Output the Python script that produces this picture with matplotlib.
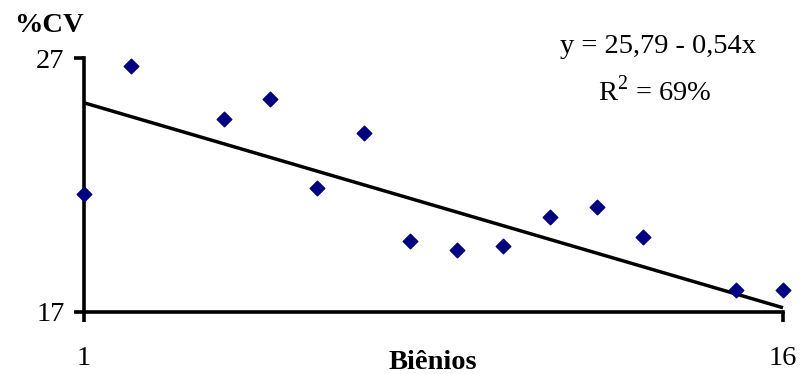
import matplotlib
matplotlib.use("Agg")
import matplotlib.pyplot as plt
import numpy as np

# Coefficient of variation per biennium
bienio = [1, 2, 4, 5, 6, 7, 8, 9, 10, 11, 12, 13, 15, 16]
cv = [21.65, 26.7, 24.6, 25.4, 21.9, 24.05, 19.8, 19.45, 19.6, 20.75, 21.15, 19.95, 17.85, 17.85]

# Fitted trend (as reported)
intercept = 25.79
slope = -0.54

x_ticks = [1, 16]
y_ticks = [17, 27]

plt.rcParams["font.family"] = ["Liberation Serif", "DejaVu Serif"]
plt.rcParams["mathtext.fontset"] = "custom"
plt.rcParams["mathtext.rm"] = "Liberation Serif"

fs = 20.5

fig = plt.figure(figsize=(8.01, 3.74), dpi=100)
ax = fig.add_axes([0.1048, 0.167, 0.8727, 0.6766])

ax.scatter(bienio, cv, marker="D", s=55, color="#000080", zorder=3, clip_on=False)

xs = np.array([1, 16])
ax.plot(xs, intercept + slope * xs, color="black", lw=2.5, solid_capstyle="butt",
        clip_on=False)

ax.set_xlim(1, 16)
ax.set_ylim(17, 27)
ax.set_xticks(x_ticks)
ax.set_yticks(y_ticks)
ax.tick_params(axis="both", direction="out", length=7, width=2.6, labelsize=fs)
ax.tick_params(axis="x", pad=18)
ax.tick_params(axis="y", pad=7)

for side in ("top", "right"):
    ax.spines[side].set_visible(False)
for side in ("left", "bottom"):
    ax.spines[side].set_linewidth(2.6)

fig.text(0.061, 0.933, "%CV", fontsize=fs, fontweight="bold", ha="center", va="center")
fig.text(0.54, 0.032, "Biênios", fontsize=fs, fontweight="bold", ha="center", va="center")

fig.text(0.821, 0.875, "y = 25,79 - 0,54x", fontsize=fs, ha="center", va="center")
fig.text(0.818, 0.755, "R$^{2}$ = 69%", fontsize=fs, ha="center", va="center")

fig.savefig("out.png", dpi=100)
